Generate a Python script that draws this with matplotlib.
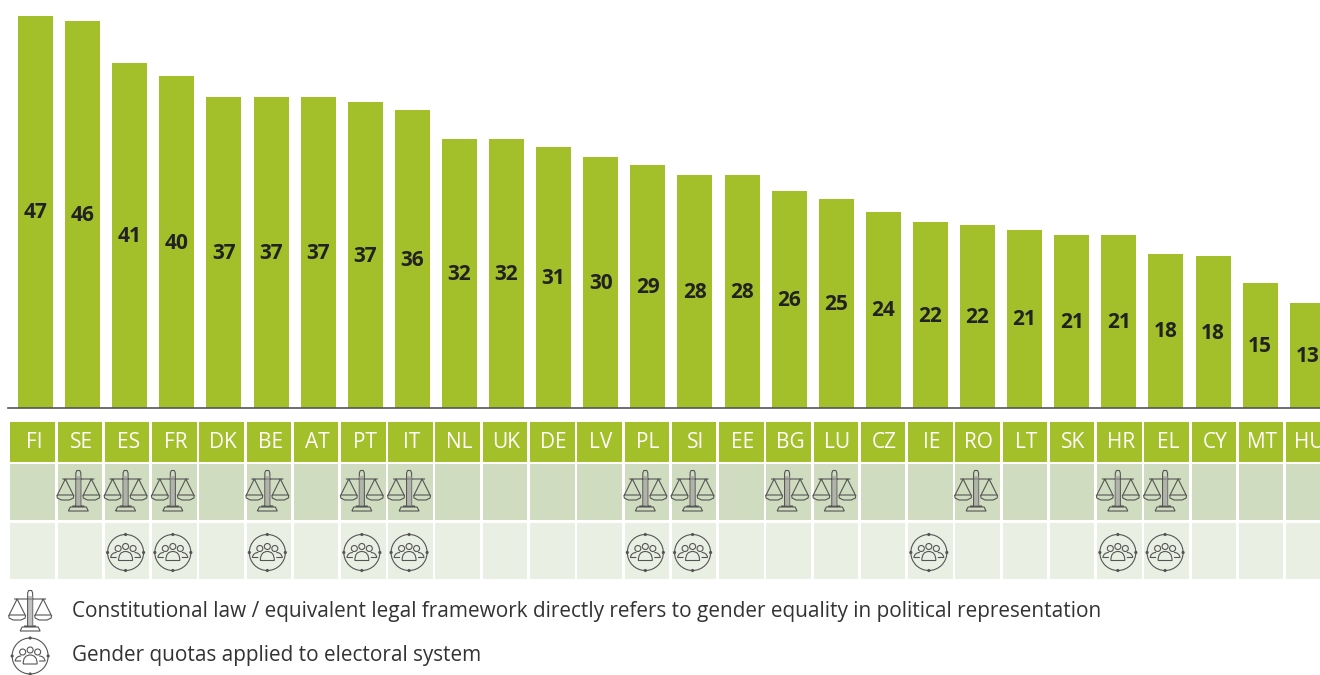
import matplotlib
matplotlib.use('Agg')
import matplotlib.pyplot as plt
from matplotlib.patches import Rectangle, PathPatch, Circle
from matplotlib.path import Path
from matplotlib.transforms import Affine2D, ScaledTranslation

countries = ['FI', 'SE', 'ES', 'FR', 'DK', 'BE', 'AT', 'PT', 'IT', 'NL', 'UK', 'DE', 'LV', 'PL',
             'SI', 'EE', 'BG', 'LU', 'CZ', 'IE', 'RO', 'LT', 'SK', 'HR', 'EL', 'CY', 'MT', 'HU']
values = [47.2, 46.6, 41.5, 39.9, 37.4, 37.4, 37.4, 36.8, 35.8, 32.3, 32.3, 31.4, 30.2, 29.2,
          28.0, 28.0, 26.1, 25.1, 23.6, 22.3, 22.0, 21.4, 20.8, 20.8, 18.5, 18.2, 15.0, 12.6]
labels = [47, 46, 41, 40, 37, 37, 37, 37, 36, 32, 32, 31, 30, 29,
          28, 28, 26, 25, 24, 22, 22, 21, 21, 21, 18, 18, 15, 13]
law_countries = ['SE', 'ES', 'FR', 'BE', 'PT', 'IT', 'PL', 'SI', 'BG', 'LU', 'RO', 'HR', 'EL']
quota_countries = ['ES', 'FR', 'BE', 'PT', 'IT', 'PL', 'SI', 'IE', 'HR', 'EL']
law_text = 'Constitutional law / equivalent legal framework directly refers to gender equality in political representation'
quota_text = 'Gender quotas applied to electoral system'

GREEN = '#a3c02a'
ROW1 = '#d0dcc0'
ROW2 = '#eaefe3'
ICON = '#555555'
W, H = 1320, 675
BASE = 407.5

plt.rcParams['font.family'] = ['Open Sans', 'DejaVu Sans']
fig = plt.figure(figsize=(W / 100, H / 100), dpi=100, facecolor='w')

# bars, x axis set up so that category i sits at 35.5 + 47.1 i pixels
ax = fig.add_axes([0, 1 - BASE / H, 1, BASE / H])
ax.set_xlim(-35.5 / 47.1, (W - 35.5) / 47.1)
ax.set_ylim(0, BASE / 8.3)
ax.bar(range(len(values)), values, width=35 / 47.1, color=GREEN)
for i, v in enumerate(values):
    ax.text(i, v / 2 - 0.15, str(labels[i]), ha='center', va='center', fontsize=15,
            fontweight='bold', color='#222222')
ax.axis('off')
ax.axhline(0, xmin=8 / W, color='#555555', lw=1.2, clip_on=False)

# table under the bars, y in pixels from the top
tab = fig.add_axes([0, 0, 1, 1])
tab.set_xlim(-32.5 / 47.25, (W - 32.5) / 47.25)
tab.set_ylim(H, 0)
tab.axis('off')
cell_w = 44.5 / 47.25


def law_icon():
    verts, codes = [], []

    def add(pts):
        verts.extend(pts)
        codes.extend([Path.MOVETO] + [Path.LINETO] * (len(pts) - 1))
    # beam, pillar, foot
    add([(-16, -12), (16, -12)])
    add([(-2.5, 15), (-2.5, -18), (-1.5, -20.5), (1.5, -20.5), (2.5, -18), (2.5, 15)])
    add([(-6, 15), (6, 15)])
    add([(-10, 20), (-8, 16), (8, 16), (10, 20), (-10, 20)])
    # pans
    for c in (-13, 13):
        add([(c, -12), (c - 8, 4), (c + 8, 4), (c, -12)])
        add([(c - 8.5, 4), (c - 8, 7), (c - 4, 9), (c + 4, 9), (c + 8, 7), (c + 8.5, 4)])
    return Path(verts, codes)


def draw_law(x, y):
    tr = Affine2D().scale(1, -1) + ScaledTranslation(x, y, tab.transData)
    tab.add_patch(PathPatch(law_icon(), fc='none', ec=ICON, lw=0.8, transform=tr, clip_on=False))
    tab.add_patch(Rectangle((-2.5, -15), 5, 30, fc='#999999', ec='none', alpha=0.6, transform=tr))


def draw_quota(x, y):
    tr = ScaledTranslation(x, y, tab.transData)
    tab.add_patch(Circle((0, 0), 18, fc='none', ec=ICON, lw=0.8, transform=tr, clip_on=False))
    for dx, dy in [(0, 18), (0, -18), (18, 0), (-18, 0)]:
        tab.add_patch(Circle((dx, dy), 1.6, fc=ICON, ec='none', transform=tr, clip_on=False))
    for dx, dy in [(-7.5, 4), (0, 6), (7.5, 4)]:
        tab.add_patch(Circle((dx, dy), 3, fc='none', ec=ICON, lw=0.8, transform=tr, clip_on=False))
    body = Path([(-7, -8), (-7, 1), (0, 1), (7, 1), (7, -8), (-7, -8)],
                [Path.MOVETO, Path.CURVE3, Path.CURVE3, Path.CURVE3, Path.CURVE3, Path.LINETO])
    tab.add_patch(PathPatch(body, fc='none', ec=ICON, lw=0.8, transform=tr, clip_on=False))
    for s in (-1, 1):
        side = Path([(s * 9, 0), (s * 14, 0), (s * 15, -5), (s * 9, -5)],
                    [Path.MOVETO, Path.CURVE3, Path.CURVE3, Path.LINETO])
        tab.add_patch(PathPatch(side, fc='none', ec=ICON, lw=0.8, transform=tr, clip_on=False))


for i, c in enumerate(countries):
    left = i - cell_w / 2
    tab.add_patch(Rectangle((left, 422), cell_w, 40, fc=GREEN, ec='none'))
    tab.add_patch(Rectangle((left, 464), cell_w, 56, fc=ROW1, ec='none'))
    tab.add_patch(Rectangle((left, 523), cell_w, 56, fc=ROW2, ec='none'))
    tab.text(i + 0.03, 442, c, ha='center', va='center', color='w', fontsize=15)
    if c in law_countries:
        draw_law(i - 0.03, 491)
    if c in quota_countries:
        draw_quota(i - 0.03, 552.5)

draw_law(-0.05, 611)
draw_quota(-0.05, 656)
tab.text(-32.5 / 47.25 + 72 / 47.25, 611.5, law_text, ha='left', va='center', fontsize=14.95, color='#333333')
tab.text(-32.5 / 47.25 + 72 / 47.25, 656, quota_text, ha='left', va='center', fontsize=14.95, color='#333333')

fig.savefig('out.png', dpi=100)
